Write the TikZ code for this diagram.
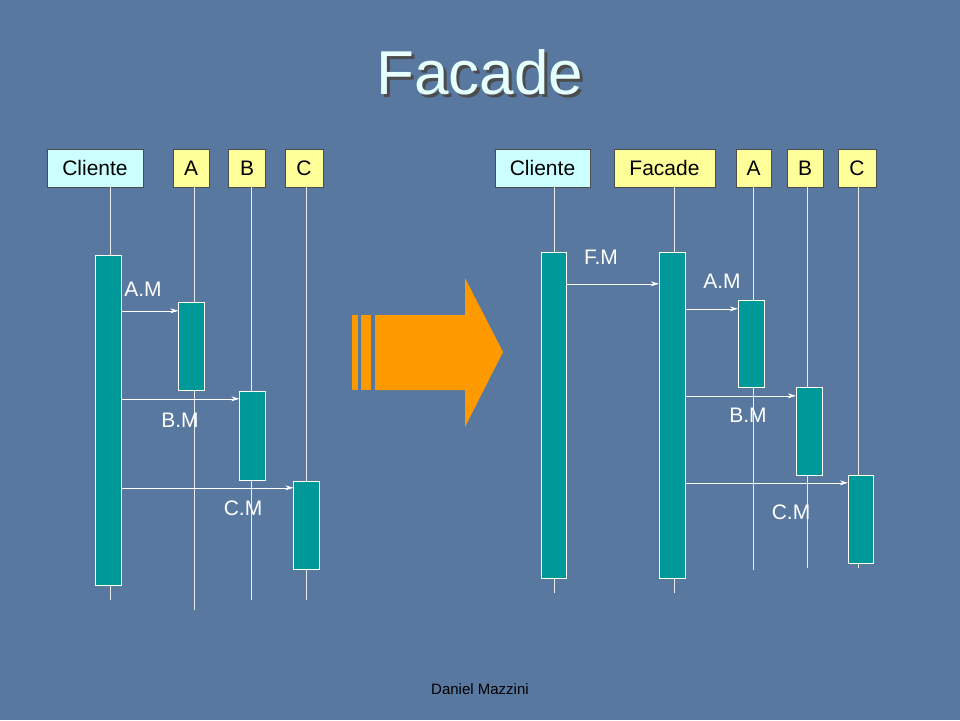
\documentclass[tikz,border=0pt]{standalone}
\usepackage{fontspec}
\setmainfont{Liberation Sans}
\usetikzlibrary{arrows.meta,positioning}
\definecolor{slidebg}{RGB}{88,120,160}
\definecolor{actfill}{RGB}{0,153,153}
\definecolor{clientfill}{RGB}{204,255,255}
\definecolor{classfill}{RGB}{255,255,153}
\definecolor{arroworange}{RGB}{255,153,0}
\definecolor{titletext}{RGB}{230,255,255}
\tikzset{
  objbox/.style={draw=black!70,fill=classfill,minimum height=38pt,inner sep=0pt,font=\fontsize{21}{21}\selectfont},
  actbox/.style={draw=white,fill=actfill,inner sep=0pt,minimum width=26pt},
  lifeline/.style={draw=white!85!gray,line width=0.6pt},
  msg/.style={draw=white,line width=0.6pt,-{Stealth[length=8pt,width=5pt]}},
  msglabel/.style={text=white,font=\fontsize{21}{21}\selectfont}
}
\begin{document}
\begin{tikzpicture}[x=1pt,y=-1pt]
	\fill[slidebg] (0,0) rectangle (960,720);
	% title
	\node[text=black!70,font=\fontsize{62}{62}\selectfont] at (483,75) {Facade};
	\node[text=titletext,font=\fontsize{62}{62}\selectfont] (title) at (480,72) {Facade};

	% left diagram
	\node[objbox,fill=clientfill,minimum width=96pt] (lcl) at (95,168) {Cliente};
	\node[objbox,minimum width=36pt] (la) at (191,168) {A};
	\node[objbox,minimum width=37pt] (lb) at (247,168) {B};
	\node[objbox,minimum width=38pt] (lc) at (304,168) {C};
	\coordinate (lclend) at (110,600);
	\coordinate (laend) at (194,610);
	\coordinate (lbend) at (251,600);
	\coordinate (lcend) at (306,600);
	\draw[lifeline] (lcl.south -| lclend) -- (lclend);
	\draw[lifeline] (la.south -| laend) -- (laend);
	\draw[lifeline] (lb.south -| lbend) -- (lbend);
	\draw[lifeline] (lc.south -| lcend) -- (lcend);
	\node[actbox,minimum height=330pt] (lact0) at (108,420) {};
	\node[actbox,minimum height=88pt] (lact1) at (191.5,346) {};
	\node[actbox,minimum height=89pt] (lact2) at (252.5,435.5) {};
	\node[actbox,minimum height=88pt] (lact3) at (306.5,525) {};
	\draw[msg] ([yshift=-56pt]lact0.north east) -- ([yshift=-9pt]lact1.north west);
	\draw[msg] ([yshift=-144pt]lact0.north east) -- ([yshift=-8pt]lact2.north west);
	\draw[msg] ([yshift=-233pt]lact0.north east) -- ([yshift=-7pt]lact3.north west);
	\node[msglabel] (lam) at (143,289) {A.M};
	\node[msglabel] (lbm) at (180,420) {B.M};
	\node[msglabel] (lcm) at (243,508) {C.M};

	% arrow between
	\fill[arroworange] (352,315) rectangle (358,390);
	\fill[arroworange] (361,315) rectangle (371,390);
	\fill[arroworange] (375,315) -- (465,315) -- (465,278) -- (503,352)
		-- (465,427) -- (465,390) -- (375,390) -- cycle;

	% right diagram
	\node[objbox,fill=clientfill,minimum width=95pt] (rcl) at (542.5,168) {Cliente};
	\node[objbox,minimum width=101pt] (rfa) at (664.5,168) {Facade};
	\node[objbox,minimum width=35pt] (ra) at (753.5,168) {A};
	\node[objbox,minimum width=36pt] (rb) at (805,168) {B};
	\node[objbox,minimum width=38pt] (rc) at (857,168) {C};
	\coordinate (rclend) at (554,593);
	\coordinate (rfaend) at (674,593);
	\coordinate (raend) at (753,570);
	\coordinate (rbend) at (807,568);
	\coordinate (rcend) at (858,568);
	\draw[lifeline] (rcl.south -| rclend) -- (rclend);
	\draw[lifeline] (rfa.south -| rfaend) -- (rfaend);
	\draw[lifeline] (ra.south -| raend) -- (raend);
	\draw[lifeline] (rb.south -| rbend) -- (rbend);
	\draw[lifeline] (rc.south -| rcend) -- (rcend);
	\node[actbox,minimum width=25pt,minimum height=326pt] (ract0) at (553.5,415) {};
	\node[actbox,minimum height=326pt] (ract1) at (672,415) {};
	\node[actbox,minimum height=87pt] (ract2) at (751,343.5) {};
	\node[actbox,minimum height=88pt] (ract3) at (809,431) {};
	\node[actbox,minimum width=25pt,minimum height=88pt] (ract4) at (860.5,519) {};
	\draw[msg] ([yshift=-32pt]ract0.north east) -- ([yshift=-32pt]ract1.north west);
	\draw[msg] ([yshift=-57pt]ract1.north east) -- ([yshift=-9pt]ract2.north west);
	\draw[msg] ([yshift=-144pt]ract1.north east) -- ([yshift=-9pt]ract3.north west);
	\draw[msg] ([yshift=-231pt]ract1.north east) -- ([yshift=-8pt]ract4.north west);
	\node[msglabel] (rfm) at (601,257) {F.M};
	\node[msglabel] (ram) at (722,281) {A.M};
	\node[msglabel] (rbm) at (748,415) {B.M};
	\node[msglabel] (rcm) at (791,512) {C.M};

	% footer
	\node[font=\fontsize{15}{15}\selectfont] (footer) at (480,689) {Daniel Mazzini};
\end{tikzpicture}
\end{document}
